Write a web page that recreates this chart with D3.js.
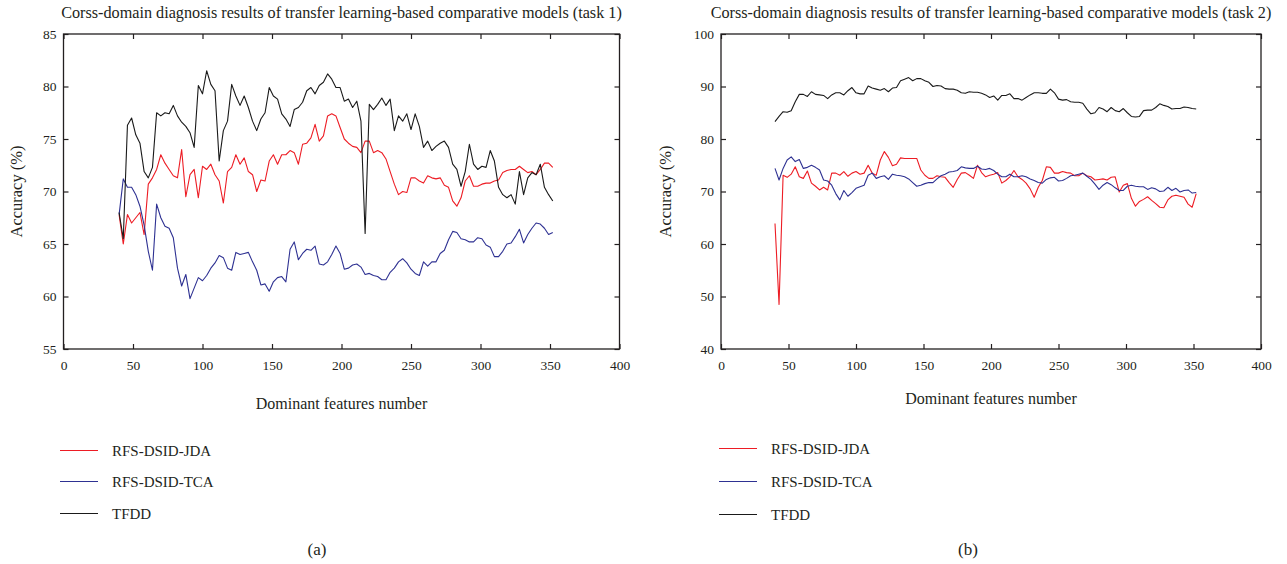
<!doctype html>
<meta charset='utf-8'>
<title>transfer learning comparison</title>
<style type="text/css">
	body { margin:0; background:#fff; }
	svg { display:block; }
	text { font-family:'Liberation Serif', 'DejaVu Serif', serif; fill:#231f20; }
	.axis path { display:none; }
	.axis line { stroke:#231f20; stroke-width:1.2px; }
</style>
<body>
<script src="https://cdnjs.cloudflare.com/ajax/libs/d3/7.8.5/d3.min.js" charset="utf-8"></script>
<script>

	// dominant features number, sampled every 3 features (40 .. 352)
	var featureNums = d3.range(40, 353, 3)

	var xTicks = [0, 50, 100, 150, 200, 250, 300, 350, 400]
	var yTicks1 = [55, 60, 65, 70, 75, 80, 85]
	var yTicks2 = [40, 50, 60, 70, 80, 90, 100]

	var seriesNames = ['RFS-DSID-JDA', 'RFS-DSID-TCA', 'TFDD']
	var seriesColors = ['#ed1c24', '#2e3192', '#1a1a1a']

	// task 1
	var task1Jda = [67.8,65.0,67.8,67.0,67.5,68.0,65.9,70.7,71.3,72.1,73.5,72.7,72.1,71.5,71.3,74.0,69.5,71.6,72.1,69.4,72.4,72.1,72.6,71.6,71.0,68.9,71.9,
		72.3,73.5,72.6,73.2,71.9,71.6,70.0,71.1,71.0,72.9,73.5,72.6,73.5,73.5,73.9,73.7,72.6,74.5,74.6,75.1,76.4,74.8,75.3,77.2,77.4,77.2,76.1,75.0,74.6,74.3,74.2,73.7,74.8,74.8,73.7,73.9,73.7,73.1,71.9,70.7,
		69.7,70.0,69.9,71.3,71.3,71.0,70.8,71.5,71.3,71.2,71.3,70.6,70.4,69.1,68.6,69.4,71.0,71.5,70.5,70.5,70.7,70.8,70.8,71.0,71.1,71.8,72.0,72.1,72.1,72.4,72.1,71.8,71.9,71.6,72.1,72.7,72.7,72.3]
	var task1Tca = [67.8,71.2,70.4,70.4,69.7,68.6,66.8,64.3,62.5,68.8,67.5,66.7,66.5,65.6,62.7,61.0,62.1,59.8,60.8,61.8,61.5,62.0,62.7,63.2,63.9,63.7,62.7,
		62.5,64.2,64.0,64.1,64.2,63.3,62.5,61.1,61.2,60.5,61.4,61.8,61.9,61.4,64.5,65.2,63.5,64.1,64.5,64.4,64.8,63.1,63.0,63.3,64.0,64.8,64.1,62.6,62.7,63.0,63.1,62.8,62.1,62.2,62.0,61.9,61.6,61.6,62.3,62.7,
		63.3,63.6,63.2,62.6,62.2,62.0,63.3,62.9,63.3,63.3,64.1,64.4,65.4,66.2,66.1,65.5,65.4,65.2,65.2,65.6,65.5,64.9,64.7,63.8,63.8,64.3,65.0,65.1,65.7,66.4,65.1,65.9,66.5,67.0,66.9,66.5,65.9,66.1]
	var task1Tfdd = [68.0,65.5,76.3,77.0,75.4,74.6,71.9,71.3,72.3,77.5,77.2,77.5,77.4,78.2,77.2,76.6,76.2,75.6,74.2,80.1,79.3,81.5,80.2,79.6,72.9,75.8,76.7,
		80.2,79.1,78.2,79.1,78.0,76.7,75.8,76.9,77.5,79.9,79.1,78.8,77.4,76.9,76.2,77.8,78.0,78.5,79.6,79.9,79.3,80.1,80.4,81.2,80.7,79.9,79.9,78.6,78.8,78.0,78.6,76.7,66.0,78.3,77.8,78.3,78.9,78.2,78.8,75.8,
		77.2,76.7,77.4,75.9,77.4,76.2,74.2,74.8,73.9,74.3,74.6,74.8,74.2,72.6,72.1,70.5,71.9,74.5,72.6,72.1,72.4,72.3,73.9,72.9,70.4,69.7,69.4,69.7,68.8,71.9,69.7,71.3,71.8,71.6,72.6,70.4,69.7,69.1]

	// task 2
	var task2Jda = [63.9,48.5,73.1,72.7,73.3,74.7,72.8,72.5,73.9,71.6,71.0,70.3,70.8,70.3,73.5,73.5,73.1,73.8,72.9,73.5,73.8,73.3,73.5,75.0,73.5,73.1,76.0,
		77.6,76.5,74.9,75.2,76.4,76.3,76.3,76.3,76.3,74.1,73.1,72.5,72.5,73.0,72.8,72.7,71.7,70.8,72.3,73.5,73.6,73.1,72.5,75.0,73.6,72.8,73.1,73.3,73.6,71.6,72.1,72.8,74.0,72.8,72.3,71.6,70.5,68.9,70.8,72.1,
		74.7,74.6,73.5,73.5,73.8,73.6,73.5,73.0,73.0,73.5,73.0,72.8,72.2,72.3,72.4,72.2,72.7,72.8,69.9,71.2,71.5,68.7,67.2,68.1,68.5,69.0,68.3,67.7,67.0,66.9,68.4,69.1,69.3,69.1,68.9,67.6,67.0,69.6]
	var task2Tca = [74.4,72.2,74.4,76.0,76.6,75.7,76.1,74.4,74.6,75.0,74.6,74.1,72.2,72.0,71.2,69.6,68.4,70.2,69.1,69.8,70.6,70.9,71.2,73.1,73.5,72.5,72.8,
		73.0,72.3,73.3,73.1,73.0,72.8,72.4,71.7,71.0,71.2,71.5,71.7,71.7,72.4,73.0,73.3,73.7,73.8,74.0,74.7,74.5,74.4,74.4,74.8,74.3,74.2,74.4,74.0,73.3,72.8,72.8,73.3,72.8,72.8,73.0,72.8,72.4,72.1,71.7,71.6,
		72.3,72.6,72.7,72.0,72.1,72.5,73.0,73.1,73.3,73.5,72.9,72.3,71.4,70.4,71.2,71.7,71.3,70.7,70.2,70.2,71.0,71.2,71.0,70.9,70.9,70.4,70.7,70.5,70.0,70.1,70.8,70.2,70.6,69.9,70.2,70.3,69.7,69.8]
	var task2Tfdd = [83.3,84.3,85.2,85.1,85.4,87.1,88.5,88.5,88.1,89.0,88.5,88.4,88.3,87.7,88.4,88.8,88.8,88.4,89.2,89.8,88.8,88.6,88.6,90.1,89.7,89.5,89.3,
		89.6,89.0,89.7,89.8,91.1,91.4,91.7,91.1,91.5,91.5,91.1,90.8,90.0,90.2,90.1,89.6,89.5,89.5,89.3,88.8,88.7,89.0,88.9,88.9,88.7,88.4,87.9,88.2,87.4,88.3,88.3,88.6,87.7,87.7,87.4,87.9,88.4,88.8,88.8,88.7,
		88.7,89.5,88.8,87.6,87.4,87.5,87.1,87.0,87.0,86.8,85.7,84.8,85.0,86.0,85.7,85.2,86.0,85.4,85.2,85.8,85.0,84.3,84.2,84.3,85.4,85.5,85.5,86.0,86.7,86.4,86.2,85.7,85.8,85.8,86.1,86.0,85.8,85.7]

	var svg = d3.select('body').append('svg')
		.attr('width', 1287)
		.attr('height', 564)

	function panel(opt) {
		var g = svg.append('g')
		var x = d3.scaleLinear().domain([0, 400]).range([opt.left, opt.right])
		var y = d3.scaleLinear().domain(opt.yDomain).range([opt.bottom, opt.top])

		g.append('g').attr('class', 'axis')
			.attr('transform', 'translate(0,' + opt.bottom + ')')
			.call(d3.axisBottom(x).tickValues(xTicks).tickSizeInner(-5).tickSizeOuter(0).tickPadding(11))
		g.append('g').attr('class', 'axis')
			.attr('transform', 'translate(0,' + opt.top + ')')
			.call(d3.axisTop(x).tickValues(xTicks).tickSizeInner(-5).tickSizeOuter(0).tickFormat(''))
		g.append('g').attr('class', 'axis')
			.attr('transform', 'translate(' + opt.left + ',0)')
			.call(d3.axisLeft(y).tickValues(opt.yTicks).tickSizeInner(-5).tickSizeOuter(0).tickPadding(7))
		g.append('g').attr('class', 'axis')
			.attr('transform', 'translate(' + opt.right + ',0)')
			.call(d3.axisRight(y).tickValues(opt.yTicks).tickSizeInner(-5).tickSizeOuter(0).tickFormat(''))
		g.selectAll('.axis text').style('font-size', '13.5px')

		g.append('rect')
			.attr('x', opt.left).attr('y', opt.top)
			.attr('width', opt.right - opt.left).attr('height', opt.bottom - opt.top)
			.style('fill', 'none').style('stroke', '#231f20').style('stroke-width', '1.3px')

		var line = d3.line()
			.x(function(d, i) { return x(featureNums[i]) })
			.y(function(d) { return y(d) })

		opt.series.forEach(function(s, i) {
			g.append('path')
				.datum(s)
				.attr('d', line)
				.style('fill', 'none')
				.style('stroke', seriesColors[i])
				.style('stroke-width', '1.1px')
				.style('stroke-linejoin', 'round')
		})

		var cx = (opt.left + opt.right) / 2
		g.append('text')
			.attr('x', cx).attr('y', 18)
			.attr('text-anchor', 'middle')
			.style('font-size', '16.2px')
			.text(opt.title)
		g.append('text')
			.attr('x', cx).attr('y', opt.xLabelY)
			.attr('text-anchor', 'middle')
			.style('font-size', '16px')
			.text('Dominant features number')
		g.append('text')
			.attr('transform', 'translate(' + opt.yLabelX + ',' + ((opt.top + opt.bottom) / 2) + ') rotate(-90)')
			.attr('text-anchor', 'middle')
			.style('font-size', '16.5px')
			.text('Accuracy (%)')

		seriesNames.forEach(function(name, i) {
			var ly = opt.legendY[i]
			g.append('line')
				.attr('x1', opt.legendX).attr('x2', opt.legendX + 38)
				.attr('y1', ly).attr('y2', ly)
				.style('stroke', seriesColors[i]).style('stroke-width', '1.2px')
			g.append('text')
				.attr('x', opt.legendX + 52).attr('y', ly + 5)
				.style('font-size', '15px')
				.text(name)
		})

		g.append('text')
			.attr('x', opt.tagX).attr('y', 555)
			.attr('text-anchor', 'middle')
			.style('font-size', '17px')
			.text(opt.tag)
	}

	panel({
		left: 63.5, right: 619.5, top: 34, bottom: 349,
		yDomain: [55, 85], yTicks: yTicks1,
		title: 'Corss-domain diagnosis results of transfer learning-based comparative models (task 1)',
		series: [task1Jda, task1Tca, task1Tfdd],
		xLabelY: 409, yLabelX: 22,
		legendX: 60, legendY: [450.5, 481.5, 513.5],
		tag: '(a)', tagX: 317
	})

	panel({
		left: 721, right: 1261, top: 34, bottom: 349,
		yDomain: [40, 100], yTicks: yTicks2,
		title: 'Corss-domain diagnosis results of transfer learning-based comparative models (task 2)',
		series: [task2Jda, task2Tca, task2Tfdd],
		xLabelY: 404, yLabelX: 671,
		legendX: 719, legendY: [448.5, 481.5, 514.5],
		tag: '(b)', tagX: 968
	})

</script>
</body>
